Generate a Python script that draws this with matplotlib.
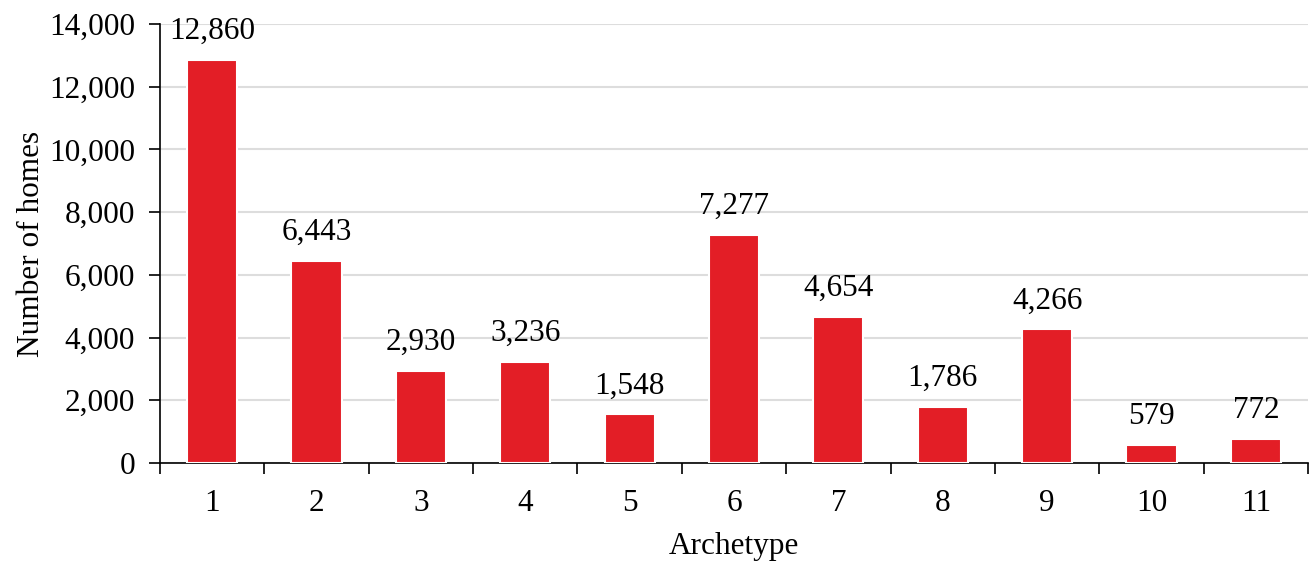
import matplotlib
matplotlib.use("Agg")
import matplotlib.pyplot as plt
from matplotlib.ticker import FuncFormatter, MultipleLocator, FixedLocator

categories = ["1", "2", "3", "4", "5", "6", "7", "8", "9", "10", "11"]
values = [12860, 6443, 2930, 3236, 1548, 7277, 4654, 1786, 4266, 579, 772]

plt.rcParams['font.family'] = ['Liberation Serif', 'DejaVu Serif']
FS = 22.5

fig = plt.figure(figsize=(13.15, 5.61), dpi=100)
ax = fig.add_axes([160/1315, 1-463/561, (1308-160)/1315, (463-24)/561])

x = list(range(len(categories)))
ax.bar(x, values, width=0.48, color='#E31E26', edgecolor='white', linewidth=1.5, zorder=3)
for xi, v in zip(x, values):
    ax.annotate(f"{v:,}", (xi, v), xytext=(0, 10), textcoords='offset points',
                ha='center', va='bottom', fontsize=FS)

ax.set_xlim(-0.5, len(categories) - 0.5)
ax.set_ylim(0, 14000)
ax.yaxis.set_major_locator(MultipleLocator(2000))
ax.yaxis.set_major_formatter(FuncFormatter(lambda v, p: f"{int(v):,}"))
ax.grid(axis='y', color='#DDDDDD', linewidth=1.5, zorder=0)
ax.set_axisbelow(True)

ax.xaxis.set_major_locator(FixedLocator([i - 0.5 for i in range(len(categories) + 1)]))
ax.xaxis.set_major_formatter(FuncFormatter(lambda v, p: ""))
ax.xaxis.set_minor_locator(FixedLocator(x))
ax.set_xticklabels(categories, minor=True)
ax.tick_params(axis='x', which='major', direction='out', length=8, width=1.2)
ax.tick_params(axis='x', which='minor', length=0, pad=19, labelsize=FS)
ax.tick_params(axis='y', direction='out', length=8, width=1.2, labelsize=FS, pad=10)

for s in ['top', 'right']:
    ax.spines[s].set_visible(False)
for s in ['left', 'bottom']:
    ax.spines[s].set_linewidth(1.2)

ax.set_ylabel("Number of homes", fontsize=FS, labelpad=2)
ax.set_xlabel("Archetype", fontsize=FS, labelpad=10)

fig.savefig("out.png", dpi=100)
